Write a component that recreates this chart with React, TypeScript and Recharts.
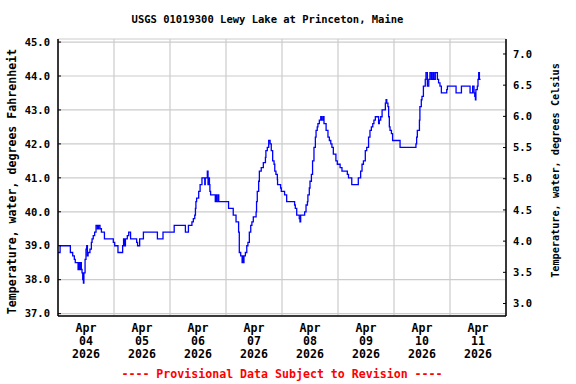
import { LineChart, Line, XAxis, YAxis, CartesianGrid } from 'recharts'

// hours since Apr 04 00:00 and water temperature (deg F)
const readingHours = [
  0, 0.9, 5.3, 6.3, 7.0, 7.4, 8.6, 9.0, 9.4, 9.7, 10.0, 10.3, 10.6, 10.9, 11.1, 11.6, 12.0, 12.3, 12.6, 12.9,
  13.7, 14.3, 14.6, 15.1, 15.7, 16.3, 16.9, 17.4, 18.0, 18.6, 19.9, 23.7, 24.3, 25.7, 27.7, 28.1, 28.6, 28.9,
  29.7, 30.3, 31.1, 33.7, 34.1, 35.0, 36.6, 42.6, 45.0, 49.8, 54.6, 55.9, 57.4, 58.0, 58.6, 58.9, 59.1, 59.4,
  60.3, 60.9, 61.7, 62.9, 63.1, 64.0, 64.3, 64.6, 64.9, 65.1, 65.4, 67.4, 67.7, 68.0, 68.6, 68.9, 73.1, 75.1,
  76.3, 77.4, 77.7, 78.3, 78.9, 79.1, 79.4, 79.7, 80.3, 80.9, 81.4, 82.0, 82.6, 83.1, 83.7, 84.9, 85.1, 85.4,
  86.0, 86.3, 87.1, 88.0, 88.9, 89.1, 89.7, 90.3, 90.9, 91.4, 92.0, 92.6, 92.9, 93.4, 94.0, 94.1, 95.4, 95.7,
  97.1, 98.0, 101.4, 101.7, 102.3, 103.4, 103.7, 104.0, 105.7, 106.3, 106.9, 107.1, 107.7, 108.0, 108.6, 109.1,
  109.7, 110.3, 110.6, 111.1, 111.4, 112.0, 112.6, 113.1, 113.7, 114.0, 114.9, 115.7, 116.3, 116.9, 117.4, 118.0,
  119.1, 119.7, 120.9, 121.7, 124.0, 124.5, 125.9, 128.7, 129.7, 130.3, 130.9, 131.7, 132.3, 133.1, 133.7, 134.3,
  134.9, 135.4, 136.0, 137.4, 137.7, 138.3, 138.9, 140.3, 140.6, 140.9, 141.4, 141.7, 142.0, 142.3, 142.9, 143.4,
  146.6, 153.4, 153.7, 154.0, 154.9, 155.1, 155.7, 156.0, 156.6, 157.4, 157.7, 158.3, 158.9, 159.4, 160.0, 160.6,
  161.1, 161.7, 162.6, 163.1, 163.7, 164.3, 166.6, 166.9, 170.6, 172.9, 176.6, 177.7, 178.3, 178.6, 178.9, 179.1,
  179.7, 180.0, 180.3, 180.6, 181.1,
]
const readingTempF = [
  38.8, 39.0, 38.8, 38.7, 38.6, 38.5, 38.3, 38.5, 38.3, 38.5, 38.3, 38.2, 38.0, 37.9, 38.2, 38.6, 38.9, 39.0, 38.7, 38.8,
  38.9, 39.1, 39.2, 39.3, 39.4, 39.6, 39.5, 39.6, 39.5, 39.4, 39.2, 39.1, 39.0, 38.8, 39.0, 39.2, 39.0, 39.2,
  39.3, 39.4, 39.2, 39.1, 39.0, 39.2, 39.4, 39.2, 39.4, 39.6, 39.4, 39.6, 39.7, 39.8, 39.9, 40.1, 40.3, 40.4,
  40.6, 40.8, 41.0, 40.8, 41.0, 41.2, 40.8, 41.0, 40.8, 40.6, 40.5, 40.3, 40.5, 40.3, 40.5, 40.3, 40.1, 39.9,
  39.7, 39.4, 38.8, 38.7, 38.5, 38.7, 38.5, 38.7, 38.8, 39.0, 39.1, 39.4, 39.6, 39.7, 39.85, 40.0, 40.3, 40.6,
  40.9, 41.2, 41.3, 41.45, 41.6, 41.8, 41.9, 42.1, 42.0, 41.8, 41.5, 41.4, 41.2, 41.1, 40.95, 40.8, 40.7, 40.6,
  40.5, 40.3, 40.2, 40.1, 39.9, 39.8, 39.7, 39.9, 40.0, 40.2, 40.3, 40.5, 40.7, 40.9, 41.1, 41.5,
  41.9, 42.2, 42.4, 42.5, 42.6, 42.7, 42.8, 42.7, 42.8, 42.6, 42.4, 42.2, 42.1, 42.0, 41.9, 41.7,
  41.5, 41.4, 41.3, 41.2, 41.1, 41.0, 40.8, 41.0, 41.2, 41.4, 41.5, 41.8, 41.9, 42.2, 42.4, 42.5,
  42.6, 42.7, 42.8, 42.6, 42.7, 42.8, 43.0, 43.2, 43.3, 43.2, 43.1, 42.8, 42.5, 42.4, 42.3, 42.1,
  41.9, 42.0, 42.2, 42.4, 42.7, 43.1, 43.3, 43.4, 43.7, 43.9, 44.1, 43.7, 43.9, 44.1, 43.9, 44.1,
  43.9, 44.1, 43.9, 43.8, 43.7, 43.5, 43.6, 43.7, 43.5, 43.7, 43.5, 43.7, 43.5, 43.4, 43.3, 43.6,
  43.7, 43.9, 44.1, 43.9, 43.9,
]

const timeDomain = [0, 192]
const midnightHours = [0, 24, 48, 72, 96, 120, 144, 168, 192]
const dayTickHours = [12, 36, 60, 84, 108, 132, 156, 180]
const dayLabels = ['04', '05', '06', '07', '08', '09', '10', '11']
const monthLabel = 'Apr'
const yearLabel = '2026'
const fahrenheitTicks = [37, 38, 39, 40, 41, 42, 43, 44, 45]
const celsiusTicks = [3.0, 3.5, 4.0, 4.5, 5.0, 5.5, 6.0, 6.5, 7.0]

const data = readingHours.map((h, i) => ({ h, tempF: readingTempF[i] }))

const fontFamily = '"DejaVu Sans Mono", monospace'
const font = { fontFamily, fontSize: 10.5, fontWeight: 'bold' as const }
const bigFont = { fontFamily, fontSize: 11.6, fontWeight: 'bold' as const }

// midnight grid lines, placed through the x axis scale when it is available
const midnightGrid = ({ xAxis, offset }: any) => {
  const s = xAxis?.scale
  if (typeof s === 'function') return midnightHours.map((h) => s(h))
  if (s && typeof s.map === 'function') return midnightHours.map((h) => s.map(h))
  const [t0, t1] = timeDomain
  return midnightHours.map((h) => offset.left + ((h - t0) / (t1 - t0)) * offset.width)
}

function DayTick({ x, y, payload }: any) {
  const i = dayTickHours.indexOf(payload.value)
  return (
    <text x={x} y={y} textAnchor="middle" fill="#000" style={bigFont}>
      <tspan x={x} dy={16}>{monthLabel}</tspan>
      <tspan x={x} dy={13}>{dayLabels[i]}</tspan>
      <tspan x={x} dy={13}>{yearLabel}</tspan>
    </text>
  )
}

function LeftTitle({ viewBox }: any) {
  const x = viewBox.x + 12
  const y = viewBox.y + viewBox.height / 2 + 4
  return (
    <text x={x} y={y} transform={`rotate(-90, ${x}, ${y})`} textAnchor="middle" dominantBaseline="central" fill="#000" style={{ ...font, fontSize: 11.6 }}>
      Temperature, water, degrees Fahrenheit
    </text>
  )
}

function RightTitle({ viewBox }: any) {
  const x = viewBox.x + viewBox.width - 21
  const y = viewBox.y + viewBox.height / 2 - 7
  return (
    <text x={x} y={y} transform={`rotate(-90, ${x}, ${y})`} textAnchor="middle" dominantBaseline="central" fill="#000" style={{ ...font, fontSize: 10.2 }}>
      Temperature, water, degrees Celsius
    </text>
  )
}

export default function App() {
  return (
    <div style={{ position: 'absolute', left: 0, top: 0, width: 576, height: 384, background: '#fff' }}>
      <div style={{ ...font, position: 'absolute', left: 0, top: 13, width: 535, textAlign: 'center', lineHeight: '12px' }}>
        USGS 01019300 Lewy Lake at Princeton, Maine
      </div>
      <LineChart width={576} height={384} data={data} margin={{ top: 39, right: 0, bottom: 0, left: 0 }}>
        <CartesianGrid
          xAxisId="bottom"
          yAxisId="f"
          stroke="#cccccc"
          strokeWidth={1.2}
          verticalCoordinatesGenerator={midnightGrid}
        />
        <XAxis
          xAxisId="top"
          orientation="top"
          type="number"
          dataKey="h"
          domain={timeDomain}
          ticks={midnightHours}
          tick={false}
          tickLine={false}
          height={0}
          axisLine={{ stroke: '#000', strokeWidth: 1.5 }}
        />
        <XAxis
          xAxisId="bottom"
          type="number"
          dataKey="h"
          domain={timeDomain}
          ticks={dayTickHours}
          interval={0}
          tick={<DayTick />}
          tickLine={false}
          tickSize={0}
          tickMargin={0}
          height={68}
          axisLine={{ stroke: '#000', strokeWidth: 1.5 }}
        />
        <YAxis
          yAxisId="f"
          type="number"
          domain={[36.93, 45.09]}
          allowDataOverflow
          ticks={fahrenheitTicks}
          interval={0}
          width={58}
          tickSize={-3}
          tickMargin={11}
          tickFormatter={(v: number) => v.toFixed(1)}
          tick={{ fill: '#000', ...font }}
          tickLine={{ stroke: '#000' }}
          axisLine={{ stroke: '#000', strokeWidth: 1.5 }}
          label={(props: any) => <LeftTitle {...props} />}
        />
        <YAxis
          yAxisId="c"
          orientation="right"
          type="number"
          domain={[2.8, 7.24]}
          allowDataOverflow
          ticks={celsiusTicks}
          interval={0}
          width={70}
          tickSize={-3}
          tickMargin={10}
          tickFormatter={(v: number) => v.toFixed(1)}
          tick={{ fill: '#000', ...font }}
          tickLine={{ stroke: '#000' }}
          axisLine={{ stroke: '#000', strokeWidth: 1.5 }}
          label={(props: any) => <RightTitle {...props} />}
        />
        <Line
          xAxisId="bottom"
          yAxisId="f"
          type="stepAfter"
          dataKey="tempF"
          stroke="#0000ff"
          strokeWidth={1.3}
          dot={false}
          activeDot={false}
          isAnimationActive={false}
        />
      </LineChart>
      <div style={{ ...bigFont, position: 'absolute', left: 0, top: 368, width: 564, textAlign: 'center', lineHeight: '12px', color: '#ff0000' }}>
        ---- Provisional Data Subject to Revision ----
      </div>
    </div>
  )
}
